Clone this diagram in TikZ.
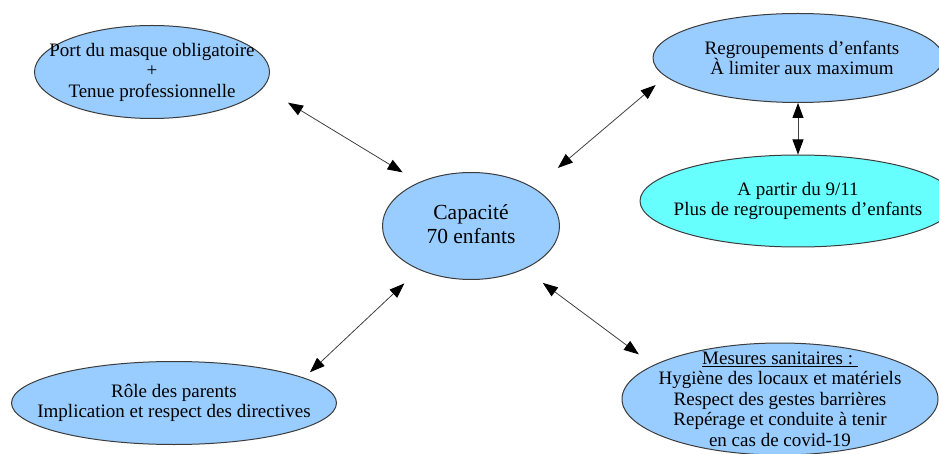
\documentclass[tikz,border=0pt]{standalone}
\usepackage{fontspec}
\setmainfont{Liberation Serif}
\usetikzlibrary{shapes.geometric,arrows.meta}
\definecolor{bulleBleu}{RGB}{153,204,255}
\definecolor{bulleCyan}{RGB}{104,255,255}
\definecolor{bord}{RGB}{60,60,60}

\begin{document}
\begin{tikzpicture}[x=1pt, y=-1pt,
		bulle/.style={ellipse, draw=bord, line width=1pt, inner sep=0pt, fill=bulleBleu},
		texte/.style={align=center, font=\fontsize{19}{20.5}\selectfont, inner sep=0pt},
		fleche/.style={{Triangle[length=15pt,width=11pt,color=black]}-{Triangle[length=15pt,width=11pt,color=black]}, line width=0.8pt, draw=black!75}]
		
		\useasboundingbox (0,0) rectangle (939,454);
		
		% --- BULLES ---
		\node[bulle, minimum width=235pt, minimum height=93pt] (masque) at (152,72) {};
		\node[texte] (masqueT) at (masque) {Port du masque obligatoire\\+\\Tenue professionnelle};
		
		\node[bulle, minimum width=290pt, minimum height=89pt] (regroup) at (798,58) {};
		\node[texte] (regroupT) at ([xshift=4pt]regroup.center) {Regroupements d’enfants\\À limiter aux maximum};
		
		\node[bulle, fill=bulleCyan, minimum width=316pt, minimum height=92pt] (novembre) at (798,201) {};
		\node[texte] (novembreT) at (novembre) {A partir du 9/11\\Plus de regroupements d’enfants};
		
		\node[bulle, minimum width=177pt, minimum height=107pt] (capa) at (471,226) {};
		\node[texte, font=\fontsize{21.5}{24}\selectfont] (capaT) at ([yshift=2pt]capa.center) {Capacité\\70 enfants};
		
		\node[bulle, minimum width=325pt, minimum height=83pt] (parents) at (174,403) {};
		\node[texte] (parentsT) at (parents) {Rôle des parents\\Implication et respect des directives};
		
		\node[bulle, minimum width=316pt, minimum height=112pt] (mesures) at (780,399) {};
		\node[texte] (mesuresT) at (mesures) {\underline{Mesures sanitaires :\ }\\Hygiène des locaux et matériels\\Respect des gestes barrières\\Repérage et conduite à tenir\\en cas de covid-19};
		
		% --- FLECHES ---
		\draw[fleche, shorten <=29pt, shorten >=19pt] (masque.-8) -- (capa.140);
		\draw[fleche, shorten <=31pt, shorten >=13pt] (capa.31) -- (regroup.188);
		\draw[fleche] (regroup.south) -- (novembre.north);
		\draw[fleche, shorten <=20pt, shorten >=8pt] (capa.220) -- (parents.11);
		\draw[fleche, shorten <=23pt, shorten >=18pt] (capa.-39) -- (mesures.165);
		
	\end{tikzpicture}
\end{document}
